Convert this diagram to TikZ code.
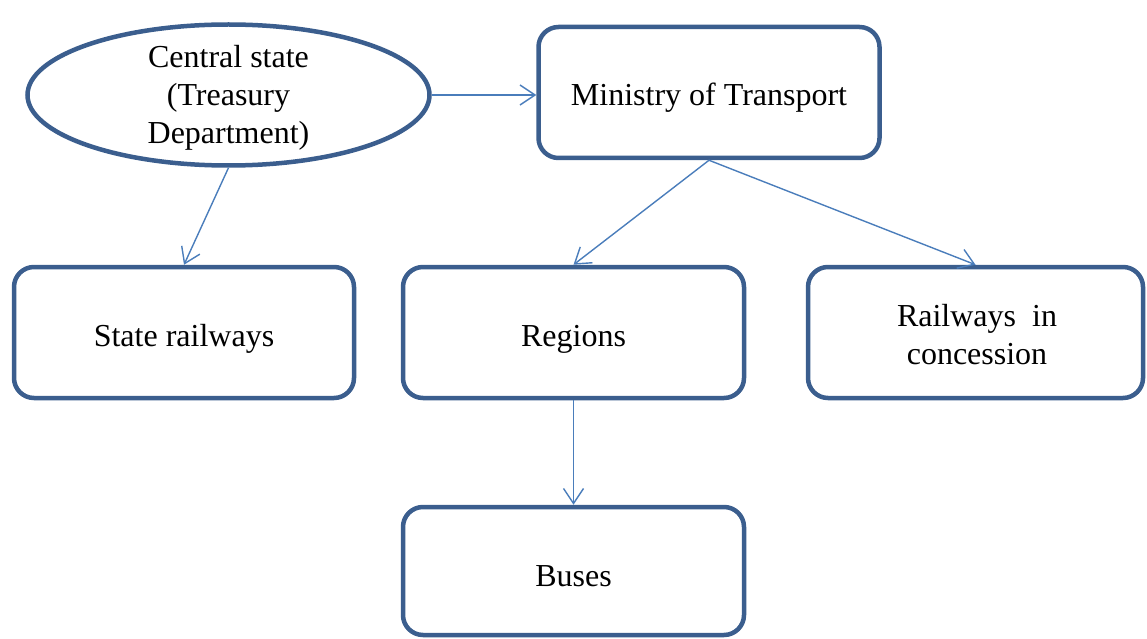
\documentclass[tikz,border=0pt]{standalone}
\usepackage{fontspec}
\setmainfont{Liberation Serif}
\usetikzlibrary{shapes.geometric,arrows.meta}
\definecolor{boxline}{HTML}{3B5E8E}
\definecolor{arrowline}{HTML}{4A7DBB}
\tikzset{
  base/.style={draw=boxline, line width=4.5pt, fill=white, inner sep=0pt,
    align=center, font=\fontsize{32}{38}\selectfont},
  unit/.style={base, rectangle, rounded corners=20pt,
    minimum width=341pt, minimum height=131pt},
  oneline/.style={text height=34pt, text depth=7pt},
  caption/.style={align=center, inner sep=0pt, font=\fontsize{32}{38}\selectfont},
  oval/.style={base, ellipse, minimum width=402pt, minimum height=141pt},
  link/.style={draw=arrowline, line width=1.4pt,
    -{Straight Barb[length=15pt,width=20pt,line width=1.4pt]}}
}
\begin{document}
\begin{tikzpicture}[x=1pt,y=-1pt]
  \useasboundingbox (0,0) rectangle (1147,639);
  % organisation chart
  \node[oval] (cs) at (228.5,95) {};
  \node[caption] (cstext) at (228.5,97.5) {Central state\\(Treasury\\Department)};
  \node[unit, oneline] (mt) at (709,92.5) {Ministry of Transport};
  \node[unit, oneline, minimum width=340pt] (sr) at (184,332.5) {State railways};
  \node[unit, oneline] (rg) at (573.5,332.5) {Regions};
  \node[unit, minimum width=335pt] (rc) at (975.5,332.5) {};
  \node[caption] (rctext) at (977,335) {Railways~ in\\concession};
  \node[unit, oneline, minimum height=128pt, text height=38pt] (bs) at (573.5,571) {Buses};
  % links
  \draw[link] (cs.east) -- (cs.east -| mt.west);
  \draw[link] (cs.south) -- (sr.north);
  \draw[link] (mt.south) -- (rg.north);
  \draw[link] (mt.south) -- (rc.north);
  \draw[link] (rg.south) -- (bs.north);
\end{tikzpicture}
\end{document}
